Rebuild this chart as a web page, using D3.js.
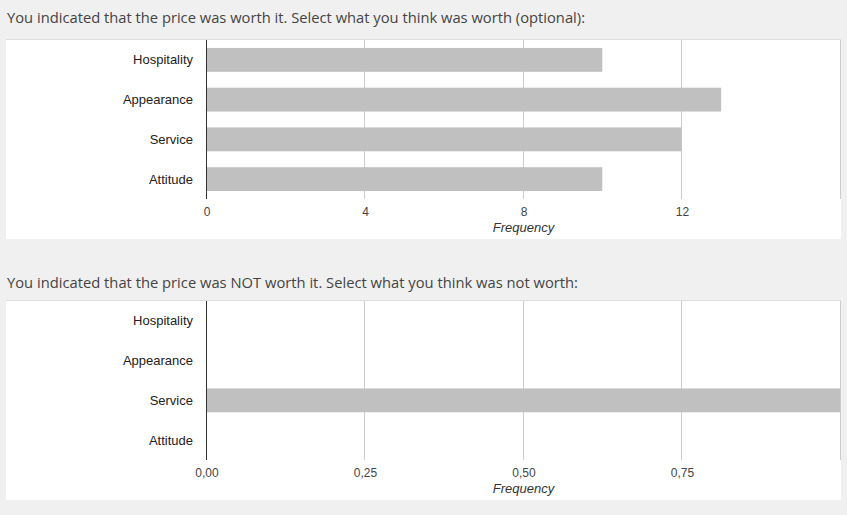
<!DOCTYPE html>
<html><head><meta charset="utf-8">
<script src="https://cdn.jsdelivr.net/npm/d3@7"></script>
<style>body{margin:0;background:#f0f0f0;}svg{display:block;}</style>
</head><body>
<script>
const categories = ["Hospitality", "Appearance", "Service", "Attitude"];
const worthValues = [10, 13, 12, 10];
const notWorthValues = [0, 0, 1, 0];
const worthTickLabels = [0, 4, 8, 12];
const worthGrid = [4, 8, 12, 16];
const notWorthTickLabels = [0, 0.25, 0.5, 0.75];
const notWorthGrid = [0.25, 0.5, 0.75, 1];
const titles = [
  "You indicated that the price was worth it. Select what you think was worth (optional):",
  "You indicated that the price was NOT worth it. Select what you think was not worth:"
];

const W = 847, H = 515;
const svg = d3.select("body").append("svg").attr("width", W).attr("height", H);
svg.append("rect").attr("width", W).attr("height", H).attr("fill", "#f0f0f0");

const commaLocale = d3.formatLocale({decimal: ",", thousands: ".", grouping: [3], currency: ["", ""]});

function panel(opts) {
  const {title, titleY, titleLen, top, values, max, labels, grid, fmt} = opts;
  svg.append("text").attr("x", 7).attr("y", titleY)
    .attr("font-family", "'Open Sans', 'Noto Sans', sans-serif").attr("font-size", 15)
    .attr("fill", "#444").attr("textLength", titleLen).attr("lengthAdjust", "spacingAndGlyphs")
    .text(title);
  svg.append("rect").attr("x", 6).attr("y", top).attr("width", 835).attr("height", 200).attr("fill", "#fff");
  svg.append("line").attr("x1", 6).attr("x2", 841).attr("y1", top + 0.5).attr("y2", top + 0.5)
    .attr("stroke", "#ddd");
  const plotTop = top + 1, plotBottom = top + 160;
  const x = d3.scaleLinear().domain([0, max]).range([206.5, 840.5]);
  const y = d3.scaleBand().domain(categories).range([plotTop, plotBottom]).paddingInner(0.4).paddingOuter(0.2);
  const g = svg.append("g");
  g.selectAll("line.grid").data(grid).join("line").attr("class", "grid")
    .attr("x1", d => Math.round(x(d)) - 0.5).attr("x2", d => Math.round(x(d)) - 0.5)
    .attr("y1", plotTop).attr("y2", plotBottom).attr("stroke", "#ccc");
  g.selectAll("rect.bar").data(categories).join("rect").attr("class", "bar")
    .attr("x", x(0) - 0.5).attr("y", c => y(c))
    .attr("width", (c, i) => x(values[i]) - x(0)).attr("height", y.bandwidth())
    .attr("fill", "#c0c0c0");
  g.append("line").attr("x1", 206.5).attr("x2", 206.5).attr("y1", plotTop).attr("y2", plotBottom)
    .attr("stroke", "#333");
  g.selectAll("text.cat").data(categories).join("text").attr("class", "cat")
    .attr("x", 193).attr("y", c => y(c) + y.bandwidth() / 2).attr("dy", "0.35em")
    .attr("text-anchor", "end").attr("font-family", "'Liberation Sans', Arial, sans-serif")
    .attr("font-size", 13).attr("fill", "#222").text(c => c);
  const ax = d3.axisBottom(x).tickValues(labels).tickSize(0).tickPadding(0).tickFormat(fmt);
  const axg = g.append("g").attr("transform", `translate(0,${plotBottom + 17})`).call(ax);
  axg.select(".domain").remove();
  axg.selectAll("text").attr("font-family", "'Liberation Sans', Arial, sans-serif")
    .attr("font-size", 12).attr("fill", "#444").attr("dy", 0);
  g.append("text").attr("x", x(max / 2)).attr("y", plotBottom + 33).attr("text-anchor", "middle")
    .attr("font-family", "'Liberation Sans', Arial, sans-serif").attr("font-size", 13)
    .attr("font-style", "italic").attr("fill", "#333").text("Frequency");
}

panel({title: titles[0], titleY: 23, titleLen: 578, top: 39, values: worthValues, max: 16,
  labels: worthTickLabels, grid: worthGrid, fmt: d3.format("d")});
panel({title: titles[1], titleY: 288, titleLen: 571, top: 300, values: notWorthValues, max: 1,
  labels: notWorthTickLabels, grid: notWorthGrid, fmt: commaLocale.format(".2f")});
</script>
</body></html>
